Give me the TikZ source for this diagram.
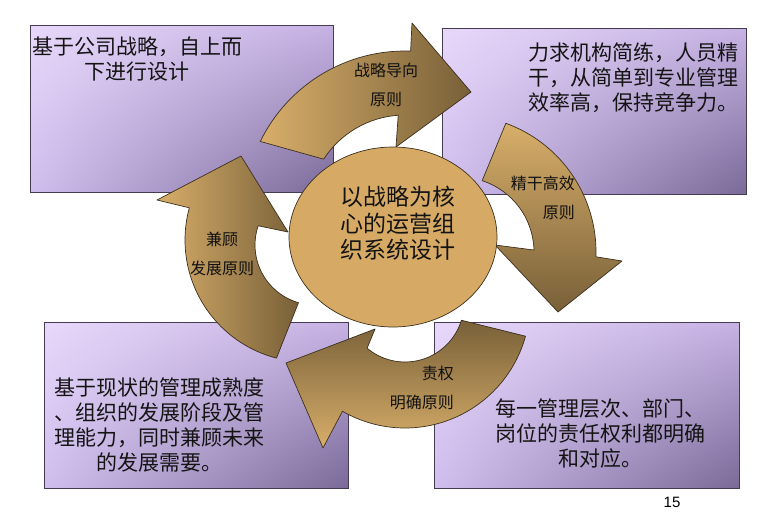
\documentclass[tikz,border=0pt]{standalone}
\usepackage{fontspec}
\setmainfont{Noto Sans CJK SC}
\newfontfamily\numfont{Liberation Sans}
\usetikzlibrary{shapes.geometric,shadings}
\definecolor{boxUL}{RGB}{232,216,250}
\definecolor{boxUR}{RGB}{198,178,228}
\definecolor{boxLL}{RGB}{208,190,238}
\definecolor{boxLR}{RGB}{122,106,152}
\definecolor{boxline}{RGB}{70,60,82}
\definecolor{tanL}{RGB}{216,174,106}
\definecolor{tanD}{RGB}{120,96,56}
\definecolor{coretan}{RGB}{214,170,100}
\definecolor{arrline}{RGB}{60,48,30}
\definecolor{txt}{RGB}{20,20,20}
\tikzset{
  infobox/.style={rectangle, draw=boxline, line width=0.8pt,
    upper left=boxUL, upper right=boxUR, lower left=boxLL, lower right=boxLR,
    inner sep=0pt},
  boxtext/.style={text=txt, font=\fontsize{21}{25}\selectfont, inner sep=0pt},
  coretext/.style={text=txt, font=\fontsize{23}{26.5}\selectfont, inner sep=0pt, align=center},
  arrtext/.style={text=txt!85!black, font=\fontsize{16}{29}\selectfont, inner sep=0pt},
  arr/.style={draw=arrline, line width=0.7pt, line join=round}
}
\begin{document}
\begin{tikzpicture}[x=1pt,y=-1pt]
\useasboundingbox[fill=white] (0,0) rectangle (760,512);

% boxes
\node[infobox, minimum width=303pt, minimum height=167pt] (b1) at (181.5,108.5) {};
\node[infobox, minimum width=304pt, minimum height=166pt] (b2) at (594,111) {};
\node[infobox, minimum width=304pt, minimum height=166pt] (b3) at (196,405) {};
\node[infobox, minimum width=305pt, minimum height=166pt] (b4) at (586.5,405) {};

% box texts
\node[boxtext, align=center] (t1) at (137,59.5) {基于公司战略，自上而\\下进行设计};
\node[boxtext, align=left] (t2) at (633,78) {力求机构简练，人员精\\干，从简单到专业管理\\效率高，保持竞争力。};
\node[boxtext, align=center] (t3) at (159,424.5) {基于现状的管理成熟度\\、组织的发展阶段及管\\理能力，同时兼顾未来\\的发展需要。};
\node[boxtext, align=center] (t4) at (600,433.5) {每一管理层次、部门、\\岗位的责任权利都明确\\和对应。};

% circular arrows
\path[arr, left color=tanL, right color=tanD]
  ([shift={(-154:161)}]405,212) arc[start angle=-154, end angle=-88, radius=161]
  -- (412,23) -- (471,92) -- (396,147)
  -- ([shift={(-94:97)}]405,212) arc[start angle=-94, end angle=-147, radius=97] -- cycle;
\path[arr, top color=tanL, bottom color=tanD]
  ([shift={(-70:137)}]459,252) arc[start angle=-70, end angle=2, radius=137]
  -- (622,261) -- (558,312) -- (495,245)
  -- ([shift={(-1.5:75)}]459,252) arc[start angle=-1.5, end angle=-72, radius=75] -- cycle;
\path[arr, top color=tanD, bottom color=tanL]
  ([shift={(15.4:125)}]405,303) arc[start angle=15.4, end angle=120, radius=125]
  -- (323,448) -- (286,363) -- (375,329)
  -- ([shift={(130:59)}]405,303) arc[start angle=130, end angle=17, radius=59] -- cycle;
\path[arr, left color=tanL, right color=tanD]
  ([shift={(104.5:122)}]307,240) arc[start angle=104.5, end angle=195.3, radius=122]
  -- (157,200) -- (241,156) -- (288,232)
  -- ([shift={(198.7:60)}]315,245) arc[start angle=198.7, end angle=106, radius=60] -- cycle;

% arrow labels
\node[arrtext, align=center] (l1) at (386,84.5) {战略导向\\原则};
\node[arrtext, align=right, anchor=east] (l2) at (575,197.5) {精干高效\\原则};
\node[arrtext, align=right, anchor=east] (l3) at (454,388) {责权\\明确原则};
\node[arrtext, align=center] (l4) at (222,254) {兼顾\\发展原则};

% core
\node[ellipse, draw=arrline, line width=0.7pt, fill=coretan,
      minimum width=208pt, minimum height=180pt, inner sep=0pt] (core) at (393,237) {};
\node[coretext] (coret) at (398,223.5) {以战略为核\\心的运营组\\织系统设计};

% page number
\node[anchor=base, font=\numfont\fontsize{15}{17}\selectfont, text=black, inner sep=0pt] (pg) at (672,507) {15};
\end{tikzpicture}
\end{document}
